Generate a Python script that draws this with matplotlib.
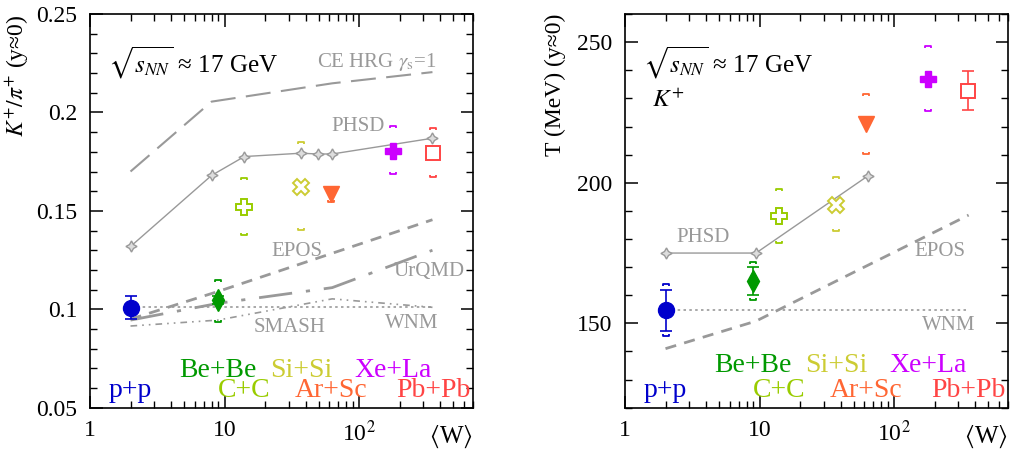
import numpy as np
import matplotlib
matplotlib.use("Agg")
import matplotlib.pyplot as plt
from matplotlib.path import Path
from matplotlib.ticker import LogLocator, MultipleLocator, NullFormatter

plt.rcParams['font.family'] = ['Liberation Serif', 'DejaVu Serif']
plt.rcParams['mathtext.fontset'] = 'stix'

# systemy i <W>
systems = ["p+p", "Be+Be", "C+C", "Si+Si", "Ar+Sc", "Xe+La", "Pb+Pb"]
colors = ["#0000cc", "#009900", "#99cc00", "#cccc33", "#ff6633", "#cc00ff", "#ff4444"]
W = [2, 8.9, 14, 37, 62, 178, 355]

# K+/pi+ (lewy panel)
ratio = [0.1009, 0.1048, 0.152, 0.162, 0.1586, 0.1806, 0.1793]
ratio_stat = [0.006, 0.002, 0, 0, 0, 0, 0]
ratio_sys_hi = [np.nan, 0.115, 0.1666, 0.185, 0.1610, 0.1931, 0.1920]
ratio_sys_lo = [np.nan, 0.0935, 0.1378, 0.1403, 0.1547, 0.1688, 0.1674]

# T (prawy panel)
temp = [154.7, 165.1, 188.2, 192.1, 220.9, 236.9, 232.7]
temp_stat = [7.3, 4.9, 0, 0, 0, 0, 6.9]
temp_sys_hi = [163.9, 171.9, 197.8, 201.9, 231.6, 248.7, np.nan]
temp_sys_lo = [145.5, 158.3, 178.7, 182.9, 210.2, 225.6, np.nan]

# modele - lewy panel
phsd_w = [2, 8, 14, 37, 49, 63, 350]
phsd_r = [0.1319, 0.168, 0.1776, 0.1793, 0.1789, 0.1789, 0.1869]
hrg_w = [2, 8, 63, 350]
hrg_r = [0.170, 0.2055, 0.2148, 0.2205]
epos_w = [2, 8.9, 350]
epos_r = [0.095, 0.109, 0.1455]
urqmd_w = [2, 8.9, 63, 350]
urqmd_r = [0.0945, 0.103, 0.111, 0.130]
smash_w = [2, 8.9, 63, 350]
smash_r = [0.0915, 0.0945, 0.1053, 0.101]
wnm_w = [2, 350]
wnm_r = [0.1011, 0.1011]

# modele - prawy panel
phsd_t_w = [2, 9.4, 64]
phsd_t = [175, 175, 202.5]
epos_t_w = [2, 9.4, 64, 357]
epos_t = [141, 150.8, 170.7, 188.5]
wnm_t_w = [2, 357]
wnm_t = [154.7, 154.7]

markers = ['o', 'd', 'P', 'X', 'v', 'P', 's']
msizes = [11.5, 11, 11, 11, 11, 11, 9.5]
filled = [True, True, False, False, True, True, False]

GREY = "#999999"

br_up = Path([(-1, -0.6), (-1, 0), (1, 0), (1, -0.6)],
             [Path.MOVETO, Path.LINETO, Path.LINETO, Path.LINETO])
br_dn = Path([(-1, 0.6), (-1, 0), (1, 0), (1, 0.6)],
             [Path.MOVETO, Path.LINETO, Path.LINETO, Path.LINETO])


def draw_data(ax, vals, stat, hi, lo):
    for i in range(len(systems)):
        c = colors[i]
        if stat[i] > 0:
            ax.errorbar(W[i], vals[i], yerr=stat[i], fmt='none', ecolor=c,
                        elinewidth=1.2, capsize=4, capthick=1.2, zorder=4)
        if not np.isnan(hi[i]):
            ax.plot(W[i], hi[i], marker=br_up, ms=5, mfc='none', mec=c, mew=1.3, zorder=4)
            ax.plot(W[i], lo[i], marker=br_dn, ms=5, mfc='none', mec=c, mew=1.3, zorder=4)
        ax.plot(W[i], vals[i], marker=markers[i], ms=msizes[i], color=c,
                mfc=c if filled[i] else 'white', mec=c, mew=1.4 if not filled[i] else 1,
                linestyle='none', zorder=5)


def style_axes(ax):
    ax.set_xscale('log')
    ax.set_xlim(1, 700)
    ax.set_xticks([1, 10, 100])
    ax.set_xticklabels(["1", "10", "10$^2$"])
    ax.xaxis.set_minor_locator(LogLocator(base=10, subs=np.arange(2, 10)))
    ax.xaxis.set_minor_formatter(NullFormatter())
    ax.tick_params(which='both', direction='in', top=True, right=True, labelsize=17, pad=9)
    ax.tick_params(which='major', length=9, width=1.1)
    ax.tick_params(which='minor', length=5, width=1)
    for s in ax.spines.values():
        s.set_linewidth(1.2)
    ax.text(1.0, -0.074, r"$\langle$W$\rangle$", transform=ax.transAxes,
            fontsize=18, ha='right', va='center')


def sys_labels(ax, y_top, y_bot):
    for i, name in enumerate(systems):
        y = y_top if i in (1, 3, 5) else y_bot
        ax.text(W[i], y, name, color=colors[i], fontsize=20, ha='center', va='baseline')


fig = plt.figure(figsize=(10.1, 4.53), dpi=100)
ax1 = fig.add_axes([0.0891, 0.100, 0.3792, 0.869])
ax2 = fig.add_axes([0.6188, 0.100, 0.3792, 0.869])

# lewy panel
ax1.plot(hrg_w, hrg_r, color=GREY, lw=1.5, dashes=(12, 5))
ax1.plot(phsd_w, phsd_r, color=GREY, lw=1, marker=(4, 1, 0), ms=8, mfc='#dddddd', mec=GREY)
ax1.plot(epos_w, epos_r, color=GREY, lw=2, dashes=(4, 3))
ax1.plot(urqmd_w, urqmd_r, color=GREY, lw=2, dashes=(12, 5, 1.5, 5))
ax1.plot(smash_w, smash_r, color=GREY, lw=1.2, dashes=(4, 3, 1, 3, 1, 3))
ax1.plot(wnm_w, wnm_r, color=GREY, lw=1.2, dashes=(1.5, 2))
draw_data(ax1, ratio, ratio_stat, ratio_sys_hi, ratio_sys_lo)
style_axes(ax1)
ax1.set_ylim(0.05, 0.25)
ax1.set_yticks([0.05, 0.1, 0.15, 0.2, 0.25])
ax1.set_yticklabels(["0.05", "0.1", "0.15", "0.2", "0.25"])
ax1.yaxis.set_minor_locator(MultipleLocator(0.01))
ax1.set_ylabel(r"$K^{+}/\pi^{+}$ (y≈0)", fontsize=17, loc='top', labelpad=4)

ax1.text(0.047, 0.876, r"$\sqrt{s_{NN}}$ ≈ 17 GeV", transform=ax1.transAxes,
         fontsize=18, ha='left', va='center')
ax1.text(134, 0.2256, r"CE HRG $\gamma_{\rm s}$=1", color=GREY, fontsize=15, ha='center', va='center')
ax1.text(98, 0.193, "PHSD", color=GREY, fontsize=15, ha='center', va='center')
ax1.text(34.7, 0.1293, "EPOS", color=GREY, fontsize=15, ha='center', va='center')
ax1.text(330, 0.1192, "UrQMD", color=GREY, fontsize=15, ha='center', va='center')
ax1.text(30.3, 0.0906, "SMASH", color=GREY, fontsize=15, ha='center', va='center')
ax1.text(247, 0.0926, "WNM", color=GREY, fontsize=15, ha='center', va='center')
sys_labels(ax1, 0.0657, 0.0556)

# prawy panel
ax2.plot(phsd_t_w, phsd_t, color=GREY, lw=1, marker=(4, 1, 0), ms=8, mfc='#dddddd', mec=GREY)
ax2.plot(epos_t_w, epos_t, color=GREY, lw=2, dashes=(4, 3))
ax2.plot(wnm_t_w, wnm_t, color=GREY, lw=1.2, dashes=(1.5, 2))
draw_data(ax2, temp, temp_stat, temp_sys_hi, temp_sys_lo)
style_axes(ax2)
ax2.set_ylim(120, 260)
ax2.set_yticks([150, 200, 250])
ax2.yaxis.set_minor_locator(MultipleLocator(10))
ax2.set_ylabel("T (MeV) (y≈0)", fontsize=17, loc='top', labelpad=8)

ax2.text(0.047, 0.876, r"$\sqrt{s_{NN}}$ ≈ 17 GeV", transform=ax2.transAxes,
         fontsize=18, ha='left', va='center')
ax2.text(0.07, 0.782, r"$K^{+}$", transform=ax2.transAxes, fontsize=18, ha='left', va='center')
ax2.text(3.8, 180.7, "PHSD", color=GREY, fontsize=15, ha='center', va='center')
ax2.text(220, 175.4, "EPOS", color=GREY, fontsize=15, ha='center', va='center')
ax2.text(252, 149.4, "WNM", color=GREY, fontsize=15, ha='center', va='center')
sys_labels(ax2, 132.7, 123.8)

fig.savefig("out.png", dpi=100)
